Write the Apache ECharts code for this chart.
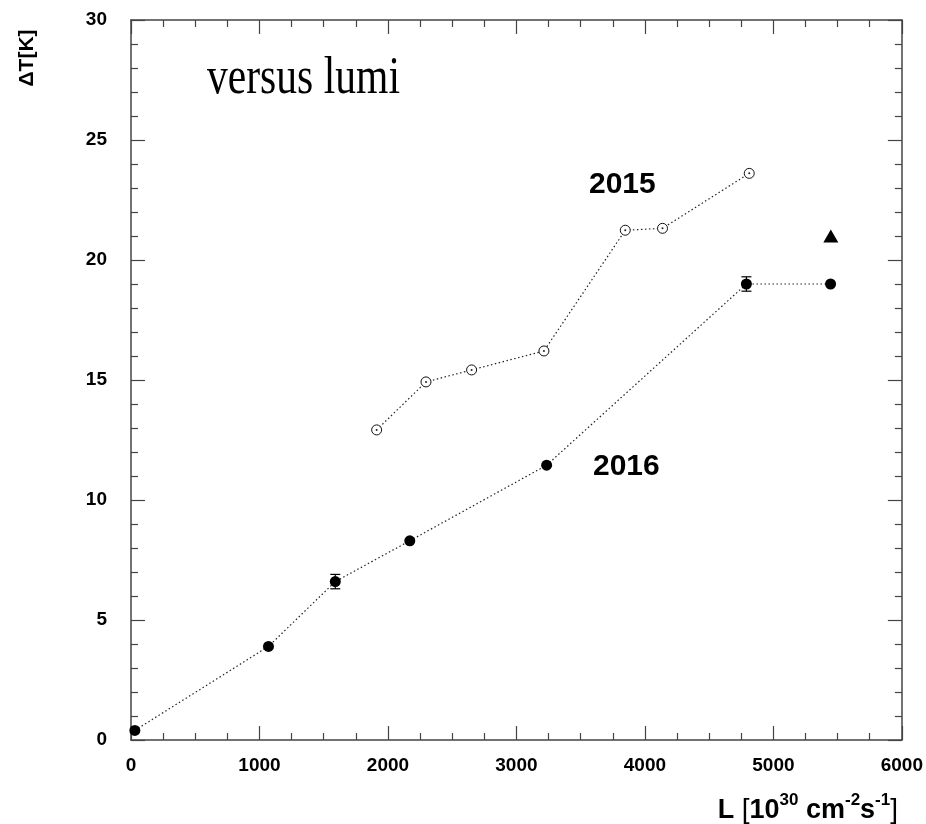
<!DOCTYPE html>
<html>
<head>
<meta charset="utf-8">
<script src="https://cdn.jsdelivr.net/npm/echarts@6/dist/echarts.min.js"></script>
<style>html,body{margin:0;padding:0;background:#fff;}#c{width:926px;height:824px;}</style>
</head>
<body>
<div id="c"></div>
<script>
// ---- data ----
var x2016 = [30, 1070, 1590, 2170, 3235, 4790, 5445];
var y2016 = [0.4, 3.9, 6.6, 8.3, 11.45, 19.0, 19.0];
var err2016 = [0, 0, 0.3, 0, 0, 0.3, 0];
var x2015 = [1912, 2296, 2651, 3214, 3847, 4137, 4812];
var y2015 = [12.92, 14.92, 15.42, 16.21, 21.24, 21.32, 23.61];
var xTri = [5447];
var yTri = [21.0];
var xTicks = [0, 1000, 2000, 3000, 4000, 5000, 6000];
var yTicks = [0, 5, 10, 15, 20, 25, 30];

function pairs(xs, ys) { return xs.map(function (x, i) { return [x, ys[i]]; }); }
var d2016 = pairs(x2016, y2016);
var d2015 = pairs(x2015, y2015);
var dTri = pairs(xTri, yTri);
var dErr = x2016.map(function (x, i) { return [x, y2016[i], err2016[i]]; }).filter(function (d) { return d[2] > 0; });

var axisColor = '#444';
var labelFont = { fontFamily: 'Liberation Sans, Arial, sans-serif', fontWeight: 'bold', fontSize: 19, color: '#000' };

function baseAxis(extra, split) {
  var a = {
    type: 'value',
    axisLine: { show: true, onZero: false, lineStyle: { color: axisColor, width: 1.5 } },
    axisTick: { show: true, inside: true, length: 14, lineStyle: { color: axisColor, width: 1.2 } },
    minorTick: { show: true, splitNumber: split, length: 7, lineStyle: { color: axisColor, width: 1.2 } },
    splitLine: { show: false },
    minorSplitLine: { show: false }
  };
  for (var k in extra) a[k] = extra[k];
  return a;
}

var chart = echarts.init(document.getElementById('c'), null, { renderer: 'canvas' });
chart.setOption({
  backgroundColor: '#fff',
  animation: false,
  grid: { left: 131, right: 24, top: 20, bottom: 84, containLabel: false },
  xAxis: [
    baseAxis({ min: xTicks[0], max: xTicks[xTicks.length - 1], interval: 1000, position: 'bottom',
      axisLabel: Object.assign({ margin: 16, formatter: function (v) { return xTicks.indexOf(v) >= 0 ? String(v) : ''; } }, labelFont) }, 4),
    baseAxis({ min: xTicks[0], max: xTicks[xTicks.length - 1], interval: 1000, position: 'top',
      axisLabel: { show: false } }, 4)
  ],
  yAxis: [
    baseAxis({ min: yTicks[0], max: yTicks[yTicks.length - 1], interval: 5, position: 'left',
      axisLabel: Object.assign({ margin: 24, formatter: function (v) { return yTicks.indexOf(v) >= 0 ? String(v) : ''; } }, labelFont) }, 5),
    baseAxis({ min: yTicks[0], max: yTicks[yTicks.length - 1], interval: 5, position: 'right',
      axisLabel: { show: false } }, 5)
  ],
  series: [
    {
      name: '2016', type: 'line', data: d2016, symbol: 'circle', symbolSize: 11,
      itemStyle: { color: '#000', opacity: 1 },
      lineStyle: { color: '#222', width: 1.2, type: [1.5, 2.5] },
      z: 3
    },
    {
      name: '2015', type: 'line', data: d2015, symbol: 'circle', symbolSize: 10,
      itemStyle: { color: '#fff', borderColor: '#111', borderWidth: 1, opacity: 1 },
      lineStyle: { color: '#222', width: 1.2, type: [1.5, 2.5] },
      z: 3
    },
    {
      name: '2015 centre', type: 'scatter', data: d2015, symbol: 'circle', symbolSize: 2,
      itemStyle: { color: '#222', opacity: 1 }, silent: true, z: 4
    },
    {
      name: 'triangle', type: 'scatter', data: dTri, symbol: 'triangle', symbolSize: [15, 13],
      itemStyle: { color: '#000', opacity: 1 }, z: 4
    },
    {
      name: 'err', type: 'custom', data: dErr, z: 2,
      renderItem: function (params, api) {
        var x = api.value(0), y = api.value(1), e = api.value(2);
        var top = api.coord([x, y + e]);
        var bot = api.coord([x, y - e]);
        var hw = 5;
        var st = { stroke: '#000', lineWidth: 1.2 };
        return {
          type: 'group',
          children: [
            { type: 'line', shape: { x1: top[0], y1: top[1], x2: bot[0], y2: bot[1] }, style: st },
            { type: 'line', shape: { x1: top[0] - hw, y1: top[1], x2: top[0] + hw, y2: top[1] }, style: st },
            { type: 'line', shape: { x1: bot[0] - hw, y1: bot[1], x2: bot[0] + hw, y2: bot[1] }, style: st }
          ]
        };
      }
    }
  ],
  graphic: [
    { type: 'text', left: 207, top: 53, style: { text: 'versus lumi', font: '52px "Liberation Serif", "Times New Roman", serif', fill: '#000' }, scaleX: 0.8 },
    { type: 'text', x: 589, y: 200, style: { text: '2015', font: 'bold 30px "Liberation Sans", Arial, sans-serif', fill: '#000', textVerticalAlign: 'bottom' } },
    { type: 'text', x: 593, y: 482, style: { text: '2016', font: 'bold 30px "Liberation Sans", Arial, sans-serif', fill: '#000', textVerticalAlign: 'bottom' } },
    { type: 'text', x: 27, y: 58, rotation: Math.PI / 2,
      style: { text: 'ΔT[K]', font: 'bold 21px "Liberation Sans", Arial, sans-serif', fill: '#000', textAlign: 'center', textVerticalAlign: 'middle' } },
    { type: 'text', x: 898, y: 808, style: {
        text: '{b|L }{n|[}{b|10}{s|30}{b| cm}{s|-2}{b|s}{s|-1}{n|]}',
        textAlign: 'right', textVerticalAlign: 'middle',
        rich: {
          b: { fontFamily: 'Liberation Sans, Arial, sans-serif', fontWeight: 'bold', fontSize: 27, color: '#000', verticalAlign: 'bottom', lineHeight: 32 },
          n: { fontFamily: 'Liberation Sans, Arial, sans-serif', fontWeight: 'normal', fontSize: 28, color: '#000', verticalAlign: 'bottom', lineHeight: 32 },
          s: { fontFamily: 'Liberation Sans, Arial, sans-serif', fontWeight: 'bold', fontSize: 17, color: '#000', verticalAlign: 'top', lineHeight: 32, padding: [0, 0, 14, 0] }
        }
      } }
  ]
});
</script>
</body>
</html>
